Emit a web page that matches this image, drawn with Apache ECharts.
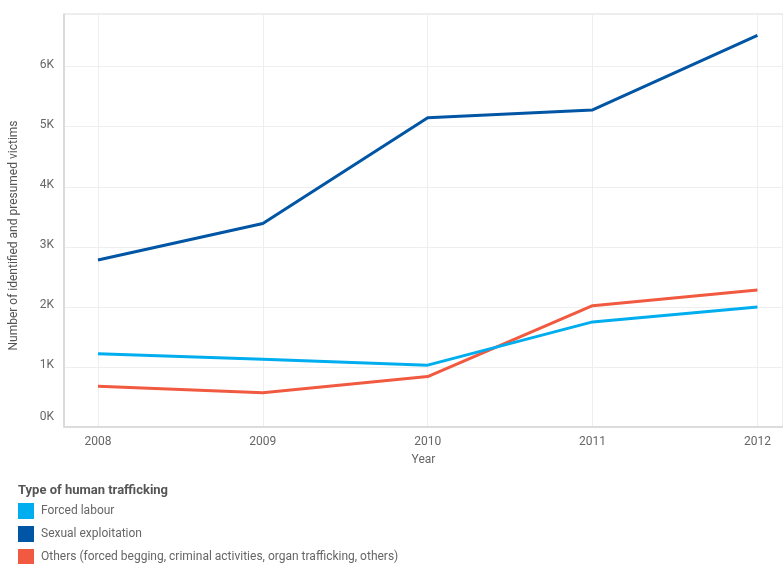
<!DOCTYPE html>
<html>
<head>
<meta charset="utf-8">
<script src="https://cdn.jsdelivr.net/npm/echarts@6/dist/echarts.min.js"></script>
<style>
  html, body { margin: 0; padding: 0; background: #fff; }
  #chart { width: 783px; height: 564px; }
</style>
</head>
<body>
<div id="chart"></div>
<script>
// Reported victims of human trafficking by type, 2008–2012
const years = [2008, 2009, 2010, 2011, 2012];
const forcedLabour = [1220, 1130, 1030, 1750, 2000];
const sexualExploitation = [2780, 3390, 5150, 5280, 6520];
const others = [680, 570, 840, 2020, 2280];
const yTicks = [0, 1000, 2000, 3000, 4000, 5000, 6000];

const seriesNames = [
  'Forced labour',
  'Sexual exploitation',
  'Others (forced begging, criminal activities, organ trafficking, others)'
];
const seriesColors = ['#00aeef', '#0055a4', '#f15a40'];
const seriesValues = [forcedLabour, sexualExploitation, others];

const chart = echarts.init(document.getElementById('chart'), null, { renderer: 'canvas' });
const font = 'Roboto, "Liberation Sans", sans-serif';

chart.setOption({
  animation: false,
  textStyle: { fontFamily: font },
  grid: {
    left: 62, right: 0, top: 14, bottom: 137,
    show: true, borderColor: '#dcdcdc', borderWidth: 1
  },
  xAxis: {
    type: 'value',
    min: 2007.794,
    max: 2012.155,
    name: 'Year',
    nameLocation: 'middle',
    nameGap: 27,
    nameTextStyle: { color: '#666', fontSize: 12, fontFamily: font },
    axisLine: { show: true, lineStyle: { color: '#d6d6d6', width: 1.5 } },
    axisTick: { show: false, customValues: years },
    axisLabel: {
      customValues: years,
      color: '#666', fontSize: 12, fontFamily: font, margin: 9,
      formatter: v => String(Math.round(v))
    },
    splitLine: { show: true, lineStyle: { color: '#eeeeee', width: 1 } }
  },
  yAxis: {
    type: 'value',
    min: 0,
    max: 6877,
    name: 'Number of identified and presumed victims',
    nameLocation: 'middle',
    nameGap: 44,
    nameTextStyle: { color: '#555', fontSize: 12, fontFamily: font, padding: [0, 30, 0, 0] },
    axisLine: { show: true, lineStyle: { color: '#d6d6d6', width: 1.5 } },
    axisTick: { show: false, customValues: yTicks },
    axisLabel: {
      customValues: yTicks,
      color: '#666', fontSize: 12, fontFamily: font, margin: 10,
      formatter: v => v === 0 ? '{zero|0K}' : '{tick|' + (v / 1000) + 'K}',
      rich: {
        zero: { color: '#666', fontSize: 12, fontFamily: font, padding: [0, 0, 20, 0] },
        tick: { color: '#666', fontSize: 12, fontFamily: font, padding: [0, 0, 4, 0] }
      }
    },
    splitLine: { show: true, lineStyle: { color: '#eeeeee', width: 1 } }
  },
  legend: {
    orient: 'vertical',
    left: 18,
    top: 503,
    height: 80,
    padding: 0,
    icon: 'rect',
    itemWidth: 16,
    itemHeight: 16,
    itemGap: 7,
    selectedMode: false,
    textStyle: { color: '#666', fontSize: 12, fontFamily: font, padding: [0, 0, 0, 2] },
    data: seriesNames
  },
  graphic: [{
    type: 'text',
    left: 18,
    top: 484,
    style: {
      text: 'Type of human trafficking',
      fill: '#555',
      font: 'bold 13px ' + font
    }
  }],
  series: seriesNames.map((name, i) => ({
    name,
    type: 'line',
    data: years.map((y, j) => [y, seriesValues[i][j]]),
    showSymbol: false,
    symbol: 'none',
    color: seriesColors[i],
    lineStyle: { width: 3, color: seriesColors[i] },
    z: i === 0 ? 3 : 2
  }))
});
</script>
</body>
</html>
